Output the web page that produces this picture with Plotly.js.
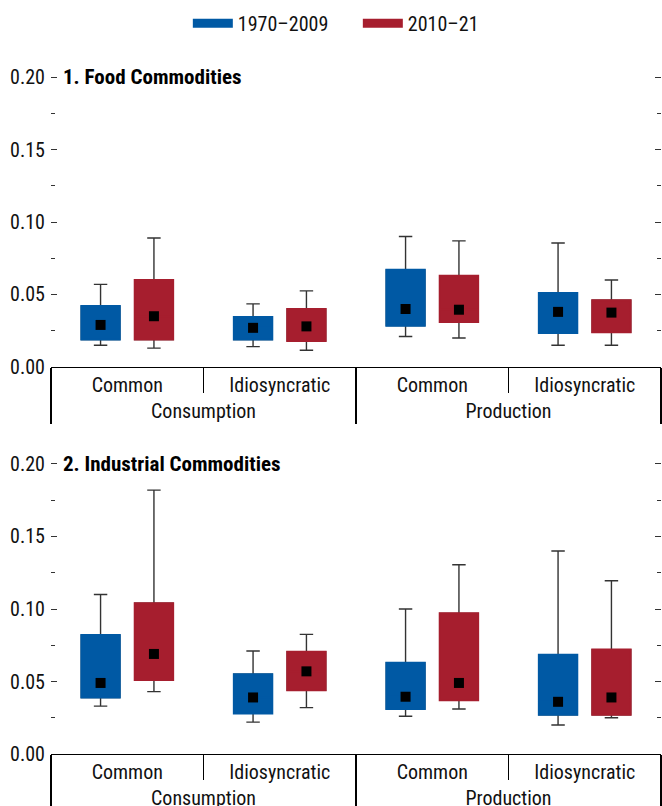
<!DOCTYPE html>
<html><head><meta charset="utf-8">
<script src="https://cdn.plot.ly/plotly-3.0.1.min.js"></script>
<style>html,body{margin:0;padding:0;background:#fff;} #chart{width:662px;height:806px;}</style>
</head><body><div id="chart"></div>
<script>
// Categories
const outerCats = ['Consumption', 'Consumption', 'Production', 'Production'];
const innerCats = ['Common', 'Idiosyncratic', 'Common', 'Idiosyncratic'];
const seriesNames = ['1970–2009', '2010–21'];
const panelTitles = ['1. Food Commodities', '2. Industrial Commodities'];

// Panel 1: Food commodities, 1970–2009
const foodEarlyLow  = [0.015, 0.014, 0.021, 0.015];
const foodEarlyQ1   = [0.019, 0.019, 0.0285, 0.0235];
const foodEarlyMed  = [0.029, 0.027, 0.040, 0.038];
const foodEarlyQ3   = [0.042, 0.0345, 0.067, 0.051];
const foodEarlyHigh = [0.057, 0.0435, 0.090, 0.0855];
// Panel 1: Food commodities, 2010–21
const foodLateLow  = [0.013, 0.0115, 0.020, 0.015];
const foodLateQ1   = [0.019, 0.018, 0.031, 0.024];
const foodLateMed  = [0.035, 0.028, 0.0395, 0.0375];
const foodLateQ3   = [0.060, 0.040, 0.063, 0.046];
const foodLateHigh = [0.089, 0.0525, 0.087, 0.060];

// Panel 2: Industrial commodities, 1970–2009
const indEarlyLow  = [0.033, 0.022, 0.026, 0.020];
const indEarlyQ1   = [0.039, 0.028, 0.031, 0.027];
const indEarlyMed  = [0.049, 0.039, 0.0395, 0.036];
const indEarlyQ3   = [0.082, 0.055, 0.063, 0.0685];
const indEarlyHigh = [0.110, 0.071, 0.100, 0.140];
// Panel 2: Industrial commodities, 2010–21
const indLateLow  = [0.043, 0.032, 0.031, 0.025];
const indLateQ1   = [0.051, 0.044, 0.037, 0.027];
const indLateMed  = [0.069, 0.057, 0.049, 0.039];
const indLateQ3   = [0.104, 0.0705, 0.097, 0.072];
const indLateHigh = [0.182, 0.0825, 0.1305, 0.1195];

const colors = ['#0059A4', '#A61E2E'];
const FONT = '"Liberation Sans Narrow","Arial Narrow","Roboto Condensed","DejaVu Sans Condensed",sans-serif';

function panelTraces(series, xa, ya) {
  const tr = [];
  series.forEach((s, k) => {
    tr.push({
      type: 'box', orientation: 'v', xaxis: xa, yaxis: ya,
      x: [outerCats, innerCats], y: s.med.map(v => [v]),
      q1: s.q1, median: s.med, q3: s.q3, lowerfence: s.low, upperfence: s.high,
      boxpoints: false, offsetgroup: 'g' + k,
      line: {color: '#333', width: 1.4}, fillcolor: colors[k],
      whiskerwidth: 0.35, showlegend: false, hoverinfo: 'skip'
    });
  });
  series.forEach((s, k) => {
    tr.push({
      type: 'box', orientation: 'v', xaxis: xa, yaxis: ya,
      x: [outerCats, innerCats], y: s.med.map(v => [v]),
      q1: s.q1, median: s.med, q3: s.q3, lowerfence: s.q1, upperfence: s.q3,
      boxpoints: 'all', pointpos: 0, jitter: 0,
      marker: {symbol: 'square', size: 10, color: '#000'},
      offsetgroup: 'g' + k,
      line: {color: colors[k], width: 2}, fillcolor: colors[k],
      whiskerwidth: 0, showlegend: false, hoverinfo: 'skip'
    });
  });
  return tr;
}

const traces = [].concat(
  panelTraces([
    {low: foodEarlyLow, q1: foodEarlyQ1, med: foodEarlyMed, q3: foodEarlyQ3, high: foodEarlyHigh},
    {low: foodLateLow, q1: foodLateQ1, med: foodLateMed, q3: foodLateQ3, high: foodLateHigh}
  ], 'x', 'y'),
  panelTraces([
    {low: indEarlyLow, q1: indEarlyQ1, med: indEarlyMed, q3: indEarlyQ3, high: indEarlyHigh},
    {low: indLateLow, q1: indLateQ1, med: indLateMed, q3: indLateQ3, high: indLateHigh}
  ], 'x2', 'y2'),
  seriesNames.map((n, k) => ({
    type: 'scatter', mode: 'lines', x: [null], y: [null], xaxis: 'x3', yaxis: 'y3',
    name: n, line: {color: colors[k], width: 9}, hoverinfo: 'skip'
  }))
);

function xAxis(anchor) {
  return {
    anchor: anchor, domain: [0, 1], type: 'multicategory', range: [-0.5, 3.5],
    showline: true, linecolor: '#000', linewidth: 1.3,
    ticks: 'outside', tickson: 'boundaries', ticklen: 25, tickwidth: 1.3, tickcolor: '#000',
    showdividers: true, dividercolor: '#000', dividerwidth: 1.3,
    showgrid: false, zeroline: false,
    tickfont: {family: FONT, size: 20, color: '#111'}
  };
}
function yAxis(anchor, domain) {
  return {
    anchor: anchor, domain: domain, range: [0, 0.2012], dtick: 0.05, tick0: 0, tickformat: '.2f',
    ticks: 'inside', ticklen: 6, tickwidth: 1, tickcolor: '#333', mirror: 'ticks',
    ticklabelstandoff: 5,
    showline: false, showgrid: false, zeroline: false,
    minor: {dtick: 0.025, tick0: 0, ticks: 'inside', ticklen: 4, tickwidth: 1, tickcolor: '#333', showgrid: false},
    tickfont: {family: FONT, size: 20, color: '#111'}
  };
}

const layout = {
  width: 662, height: 806,
  margin: {l: 51, r: 1, t: 0, b: 0},
  paper_bgcolor: '#fff', plot_bgcolor: '#fff',
  font: {family: FONT, size: 20, color: '#111'},
  boxmode: 'group', boxgap: 0.3, boxgroupgap: 0.28,
  xaxis: xAxis('y'),
  yaxis: yAxis('x', [0.5447, 0.9066]),
  xaxis2: xAxis('y2'),
  yaxis2: yAxis('x2', [0.0645, 0.4265]),
  xaxis3: {visible: false, domain: [0, 0.01], anchor: 'y3'},
  yaxis3: {visible: false, domain: [0, 0.01], anchor: 'x3'},
  showlegend: true,
  legend: {orientation: 'h', x: 0.503, xanchor: 'center', y: 0.971, yanchor: 'middle',
           entrywidth: 115, entrywidthmode: 'pixels', itemwidth: 40,
           font: {family: FONT, size: 20, color: '#111'}, bgcolor: 'rgba(0,0,0,0)'},
  annotations: panelTitles.map((t, i) => ({
    text: '<b>' + t + '</b>', xref: 'paper', x: 0.0164, xanchor: 'left',
    yref: i === 0 ? 'y' : 'y2', y: 0.2, yanchor: 'middle', showarrow: false,
    font: {family: FONT, size: 21, color: '#000'}
  }))
};

Plotly.newPlot('chart', traces, layout, {displayModeBar: false, staticPlot: true});
</script>
</body></html>
